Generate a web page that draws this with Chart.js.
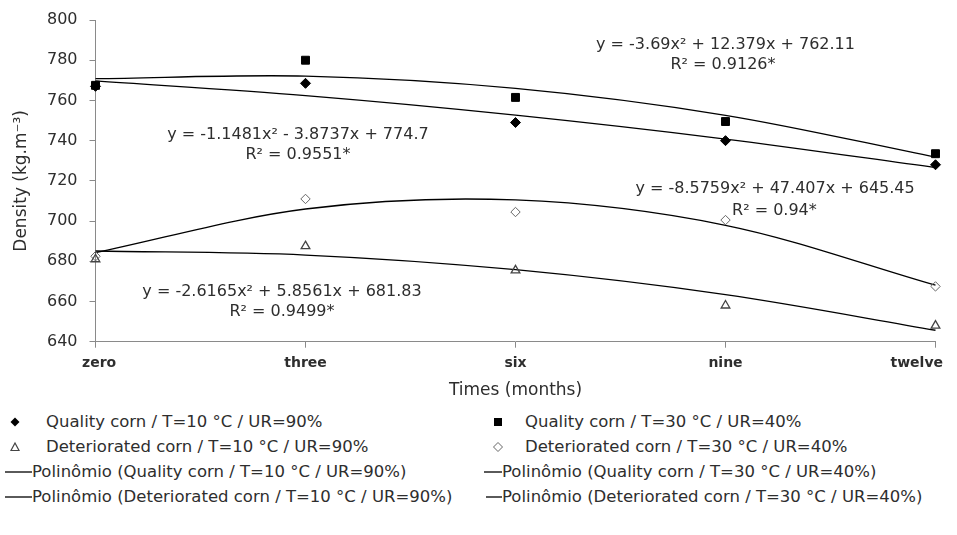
<!DOCTYPE html>
<html>
<head>
<meta charset="utf-8">
<script src="https://cdn.jsdelivr.net/npm/chart.js@4/dist/chart.umd.min.js"></script>
<style>
  body { margin: 0; background: #fff; }
  #wrap { position: relative; width: 957px; height: 535px; overflow: hidden; font-family: "DejaVu Sans", sans-serif; color: #2e2e2e; }
  #chart { position: absolute; left: 0; top: 0; }
  .row { position: absolute; height: 25px; display: flex; align-items: center; white-space: nowrap; font-size: 16.5px; }
  .row svg { flex: none; }
</style>
</head>
<body>
<div id="wrap">
  <canvas id="chart" width="957" height="405"></canvas>

  <div class="row" style="left:9px; top:409px"><svg width="12" height="12"><path d="M6 1.5 L10.5 6 L6 10.5 L1.5 6 Z" fill="#000"/></svg><span style="margin-left:25px">Quality corn / T=10 °C / UR=90%</span></div>
  <div class="row" style="left:492px; top:409px"><svg width="12" height="12"><rect x="2" y="2" width="8" height="8" fill="#000"/></svg><span style="margin-left:21px">Quality corn / T=30 °C / UR=40%</span></div>
  <div class="row" style="left:9px; top:434px"><svg width="12" height="12"><path d="M6 2 L10 9.5 L2 9.5 Z" fill="none" stroke="#444" stroke-width="1.2"/></svg><span style="margin-left:25px">Deteriorated corn / T=10 °C / UR=90%</span></div>
  <div class="row" style="left:492px; top:434px"><svg width="12" height="12"><path d="M6 1.5 L10.5 6 L6 10.5 L1.5 6 Z" fill="none" stroke="#666" stroke-width="1"/></svg><span style="margin-left:21px">Deteriorated corn / T=30 °C / UR=40%</span></div>
  <div class="row" style="left:5px; top:459px"><svg width="27" height="12"><line x1="0" y1="6" x2="27" y2="6" stroke="#000" stroke-width="1.3"/></svg><span>Polinômio (Quality corn / T=10 °C / UR=90%)</span></div>
  <div class="row" style="left:484px; top:459px"><svg width="18" height="12"><line x1="0" y1="6" x2="18" y2="6" stroke="#000" stroke-width="1.3"/></svg><span>Polinômio (Quality corn / T=30 °C / UR=40%)</span></div>
  <div class="row" style="left:5px; top:484px"><svg width="27" height="12"><line x1="0" y1="6" x2="27" y2="6" stroke="#000" stroke-width="1.3"/></svg><span>Polinômio (Deteriorated corn / T=10 °C / UR=90%)</span></div>
  <div class="row" style="left:486px; top:484px"><svg width="16" height="12"><line x1="0" y1="6" x2="16" y2="6" stroke="#000" stroke-width="1.3"/></svg><span>Polinômio (Deteriorated corn / T=30 °C / UR=40%)</span></div>
</div>

<script>
// valores
const months = ['zero', 'three', 'six', 'nine', 'twelve'];
const quality10 = [767, 768.5, 749, 740, 728];
const quality30 = [767.5, 780, 761.5, 749.5, 733.5];
const deter10 = [681, 687.5, 675.5, 658, 648];
const deter30 = [682.5, 711, 704.5, 700.5, 667.5];

// linhas de tendência (polinômio de 2a ordem) nos cinco tempos
const trendQ10 = [769.7, 762.4, 752.7, 740.8, 726.6];
const trendQ30 = [770.8, 772.1, 766.0, 752.6, 731.8];
const trendD10 = [685.1, 683.1, 675.8, 663.4, 645.7];
const trendD30 = [684.3, 706.0, 710.5, 697.9, 668.1];

const yMin = 640;
const yMax = 800;
const yStep = 20;

// equações, ancoradas em coordenadas do gráfico
const equations = [
    { text: 'y = -1.1481x² - 3.8737x + 774.7', at: 0.964, value: 742.8 },
    { text: 'R² = 0.9551*', at: 0.964, value: 732.9 },
    { text: 'y = -3.69x² + 12.379x + 762.11', at: 3.0, value: 787.6 },
    { text: 'R² = 0.9126*', at: 2.988, value: 777.6 },
    { text: 'y = -8.5759x² + 47.407x + 645.45', at: 3.236, value: 716.0 },
    { text: 'R² = 0.94*', at: 3.233, value: 705.2 },
    { text: 'y = -2.6165x² + 5.8561x + 681.83', at: 0.888, value: 664.9 },
    { text: 'R² = 0.9499*', at: 0.888, value: 654.9 },
];

const textColor = '#2e2e2e';
const axisColor = '#8a8a8a';

const equationPlugin = {
    id: 'equations',
    afterDatasetsDraw(chart) {
        const { ctx, scales } = chart;
        ctx.save();
        ctx.font = '16px "DejaVu Sans"';
        ctx.fillStyle = textColor;
        ctx.textAlign = 'center';
        ctx.textBaseline = 'middle';
        equations.forEach(function (eq) {
            ctx.fillText(eq.text, scales.x.getPixelForValue(eq.at), scales.y.getPixelForValue(eq.value));
        });
        ctx.restore();
    },
};

// rótulos do eixo x: o último fica dentro da área como no Excel
const monthLabelsPlugin = {
    id: 'monthLabels',
    afterDraw(chart) {
        const { ctx, scales } = chart;
        ctx.save();
        ctx.font = 'bold 14px "DejaVu Sans"';
        ctx.fillStyle = textColor;
        ctx.textAlign = 'left';
        ctx.textBaseline = 'alphabetic';
        months.forEach(function (m, i) {
            const w = ctx.measureText(m).width;
            let left = scales.x.getPixelForValue(i) - w / 2;
            left = Math.max(82, Math.min(left, 943 - w));
            ctx.fillText(m, left, 366.5);
        });
        ctx.restore();
    },
};

function markers(label, data, style, radius, fill, stroke, width) {
    return {
        label: label,
        data: data,
        showLine: false,
        pointStyle: style,
        pointRadius: radius,
        pointHoverRadius: radius,
        pointBackgroundColor: fill,
        pointBorderColor: stroke,
        pointBorderWidth: width,
        clip: false,
    };
}

function trend(label, data) {
    return {
        label: label,
        data: data,
        borderColor: '#000',
        borderWidth: 1.3,
        pointRadius: 0,
        tension: 0.33,
        fill: false,
        clip: false,
    };
}

new Chart(document.getElementById('chart'), {
    type: 'line',
    data: {
        labels: months,
        datasets: [
            markers('Quality corn / T=10 °C / UR=90%', quality10, 'rectRot', 5, '#000', '#000', 1),
            markers('Quality corn / T=30 °C / UR=40%', quality30, 'rect', 5.6, '#000', '#000', 1),
            markers('Deteriorated corn / T=10 °C / UR=90%', deter10, 'triangle', 5, 'transparent', '#444', 1.3),
            markers('Deteriorated corn / T=30 °C / UR=40%', deter30, 'rectRot', 4.7, 'transparent', '#666', 1),
            trend('Polinômio (Quality corn / T=10 °C / UR=90%)', trendQ10),
            trend('Polinômio (Quality corn / T=30 °C / UR=40%)', trendQ30),
            trend('Polinômio (Deteriorated corn / T=10 °C / UR=90%)', trendD10),
            trend('Polinômio (Deteriorated corn / T=30 °C / UR=40%)', trendD30),
        ],
    },
    options: {
        responsive: false,
        animation: false,
        layout: {
            padding: { left: 7, right: 21.5, top: 20, bottom: 0 },
        },
        plugins: {
            legend: { display: false },
            tooltip: { enabled: false },
        },
        scales: {
            x: {
                type: 'category',
                offset: false,
                grid: { drawOnChartArea: false, drawTicks: true, tickLength: 6, color: axisColor },
                border: { color: axisColor },
                ticks: { display: false },
                title: {
                    display: true,
                    text: 'Times (months)',
                    color: textColor,
                    font: { family: 'DejaVu Sans', size: 17 },
                },
                afterFit: function (scale) {
                    scale.height = 63.3;
                    scale.paddingLeft = 0;
                    scale.paddingRight = 0;
                },
            },
            y: {
                min: yMin,
                max: yMax,
                grid: { drawOnChartArea: false, drawTicks: true, tickLength: 6, color: axisColor },
                border: { color: axisColor },
                ticks: {
                    stepSize: yStep,
                    padding: 12,
                    color: textColor,
                    font: { family: 'DejaVu Sans', size: 16 },
                },
                title: {
                    display: true,
                    text: 'Density (kg.m⁻³)',
                    color: textColor,
                    font: { family: 'DejaVu Sans', size: 17 },
                },
                afterFit: function (scale) {
                    scale.width = 88.5;
                    scale.paddingTop = 0;
                    scale.paddingBottom = 0;
                },
            },
        },
    },
    plugins: [equationPlugin, monthLabelsPlugin],
});
</script>
</body>
</html>
